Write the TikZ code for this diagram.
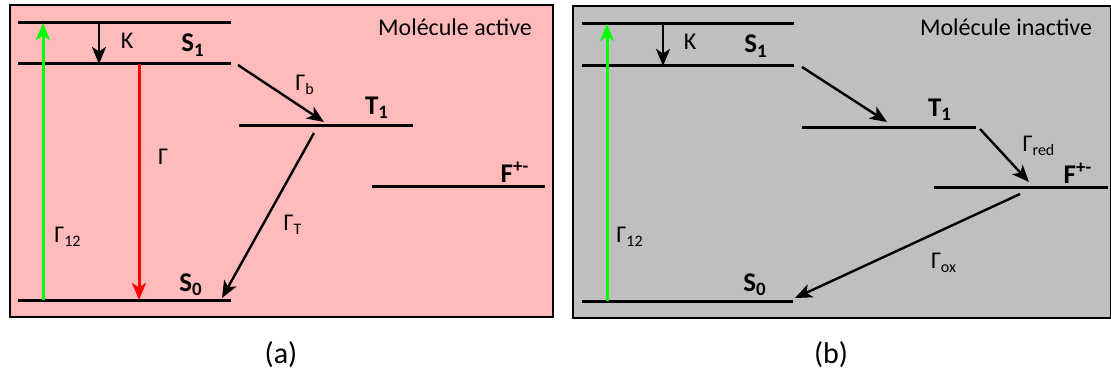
\documentclass[tikz,border=0pt]{standalone}
\usepackage{fontspec}
\setmainfont{Carlito}
\usetikzlibrary{arrows.meta}
\definecolor{rose}{RGB}{255,187,187}
\definecolor{gris}{RGB}{191,191,191}
\definecolor{vert}{RGB}{0,255,0}
\tikzset{
  cadre/.style={line width=1pt},
  niveau/.style={line width=1.5pt},
  trans/.style={line width=1.2pt,-{Stealth[length=8.5pt,width=7pt,inset=2.2pt]}},
  pompe/.style={trans,draw=vert,line width=1.5pt},
  etat/.style={font=\fontsize{13.5}{16}\selectfont\bfseries},
}
\begin{document}
\begin{tikzpicture}[x=0.5pt,y=-0.5pt,font=\fontsize{12}{14}\selectfont]
  \useasboundingbox (0,0) rectangle (1111,373);
  % (a) molecule active
  \begin{scope}
    \draw[cadre,fill=rose] (10,5) rectangle (553,317);
    \node (titreA) at (455,27) {Molécule active};
    % niveaux
    \draw[niveau] (18,23) -- (231,23);
    \draw[niveau] (18,64) -- (231,64);
    \draw[niveau] (18,300) -- (231,300);
    \draw[niveau] (239,126) -- (413,126);
    \draw[niveau] (372,187) -- (545,187);
    \node[etat] (sunA) at (193,45) {S\textsubscript{1}};
    \node[etat] (szeroA) at (191,285) {S\textsubscript{0}};
    \node[etat] (tunA) at (377,108) {T\textsubscript{1}};
    \node[etat] (fA) at (515,172) {F\textsuperscript{+-}};
    % transitions
    \coordinate (kA1) at (99,23);  \coordinate (kA2) at (99,64);
    \coordinate (pA1) at (43,300); \coordinate (pA2) at (43,23);
    \coordinate (rA1) at (139,64); \coordinate (rA2) at (139,300);
    \coordinate (bA1) at (238,65); \coordinate (bA2) at (324,122);
    \coordinate (tA1) at (314,133); \coordinate (tA2) at (222,298);
    \draw[trans] (kA1) -- (kA2);
    \draw[pompe] (pA1) -- (pA2);
    \draw[trans,draw=red,line width=1.5pt] (rA1) -- (rA2);
    \draw[trans] (bA1) -- (bA2);
    \draw[trans] (tA1) -- (tA2);
    \node (kA) at (127,41) {K};
    \node (gdA) at (68,237) {Γ\textsubscript{12}};
    \node (gA) at (163,157) {Γ};
    \node (gbA) at (305,85) {Γ\textsubscript{b}};
    \node (gtA) at (293,225) {Γ\textsubscript{T}};
    \node (legA) at (281,355) {\fontsize{15}{18}\selectfont (a)};
  \end{scope}
  % (b) molecule inactive
  \begin{scope}[shift={(563,0)}]
    \draw[cadre,fill=gris] (10,6) rectangle (548,318);
    \node (titreB) at (443,27) {Molécule inactive};
    % niveaux
    \draw[niveau] (19,24) -- (231,24);
    \draw[niveau] (19,66) -- (231,66);
    \draw[niveau] (19,301) -- (230,301);
    \draw[niveau] (239,128) -- (413,128);
    \draw[niveau] (371,188) -- (545,188);
    \node[etat] (sunB) at (193,46) {S\textsubscript{1}};
    \node[etat] (szeroB) at (192,285) {S\textsubscript{0}};
    \node[etat] (tunB) at (377,110) {T\textsubscript{1}};
    \node[etat] (fB) at (515,173) {F\textsuperscript{+-}};
    % transitions
    \coordinate (kB1) at (100,24);  \coordinate (kB2) at (100,66);
    \coordinate (pB1) at (44,301); \coordinate (pB2) at (44,24);
    \coordinate (bB1) at (239,67); \coordinate (bB2) at (324,122);
    \coordinate (rdB1) at (417,129); \coordinate (rdB2) at (466,182);
    \coordinate (oxB1) at (457,194); \coordinate (oxB2) at (232,298);
    \draw[trans] (kB1) -- (kB2);
    \draw[pompe] (pB1) -- (pB2);
    \draw[trans] (bB1) -- (bB2);
    \draw[trans] (rdB1) -- (rdB2);
    \draw[trans] (oxB1) -- (oxB2);
    \node (kB) at (127,42) {K};
    \node (gdB) at (67,237) {Γ\textsubscript{12}};
    \node (grB) at (476,146) {Γ\textsubscript{red}};
    \node (goB) at (381,263) {Γ\textsubscript{ox}};
    \node (legB) at (268,355) {\fontsize{15}{18}\selectfont (b)};
  \end{scope}
\end{tikzpicture}
\end{document}
